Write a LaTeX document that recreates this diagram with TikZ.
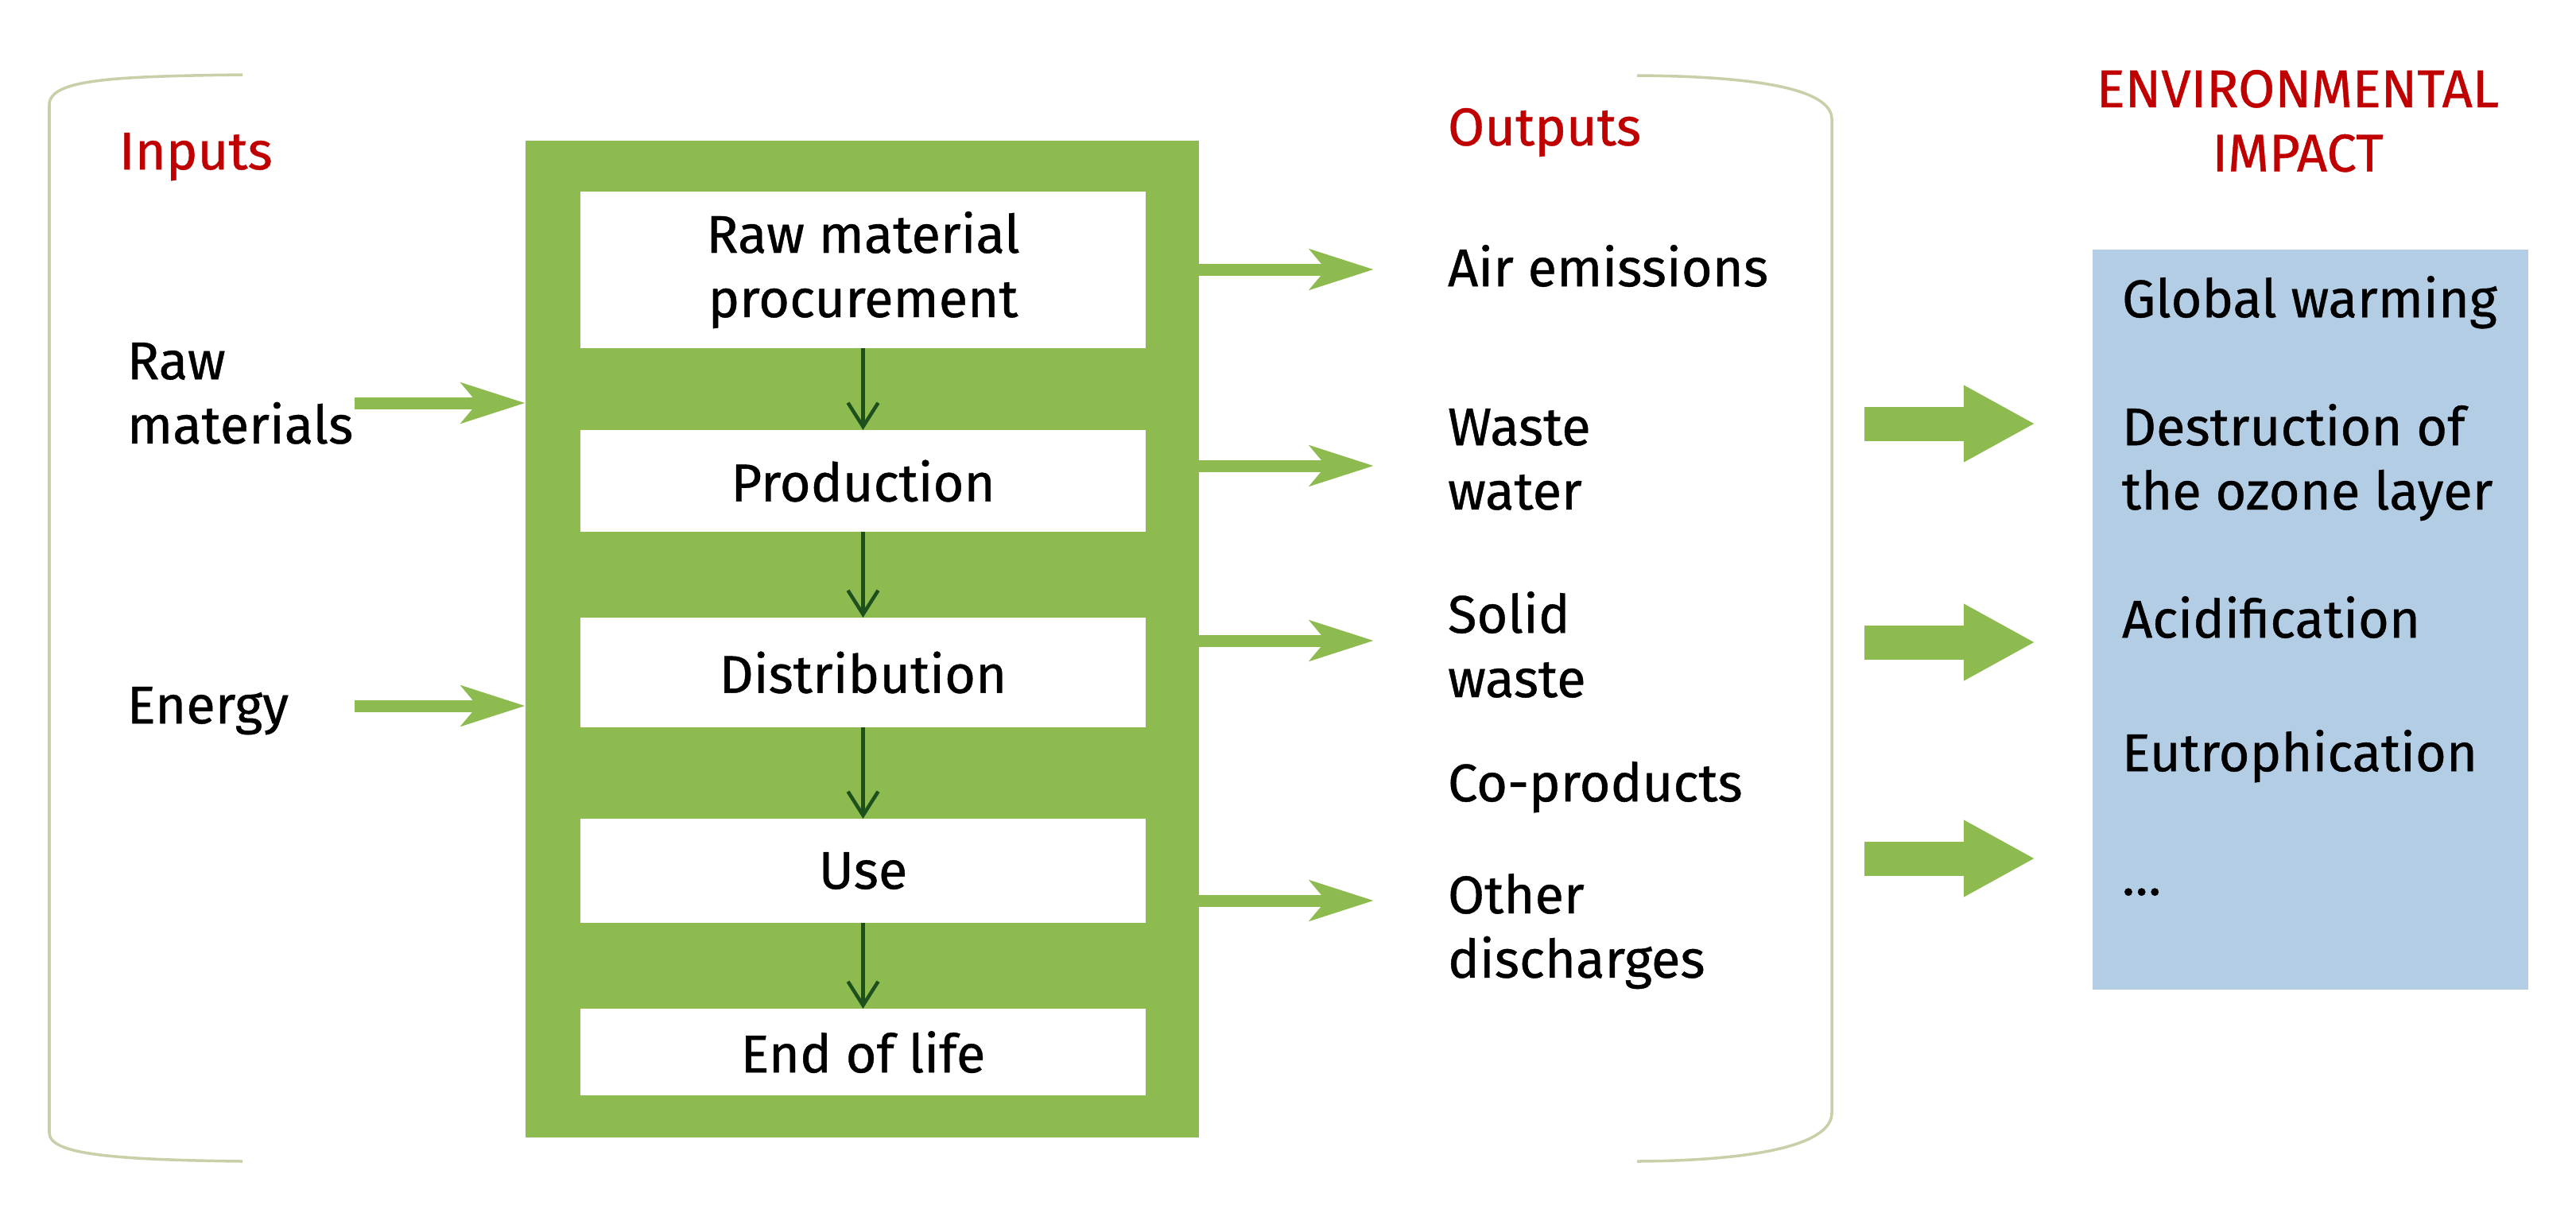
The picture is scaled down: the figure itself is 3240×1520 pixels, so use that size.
\documentclass[tikz,border=0pt]{standalone}
\usepackage{fontspec}
\setmainfont{Fira Sans}[FakeBold=0.6]
\usetikzlibrary{arrows.meta}
\definecolor{lcgreen}{HTML}{8DBB50}
\definecolor{lcblue}{HTML}{B3CDE5}
\definecolor{lcred}{HTML}{C00000}
\definecolor{lcbracket}{HTML}{C9CFA9}
\definecolor{lcdark}{HTML}{1E501E}
\begin{document}
\begin{tikzpicture}[x=0.01cm,y=-0.01cm,
  every node/.style={inner sep=0pt, outer sep=0pt, font=\fontsize{19}{23}\selectfont},
  lbl/.style={anchor=north west, align=left},
  titlelbl/.style={text=lcred},
  stagebox/.style={fill=white, minimum width=7.11cm, align=center},
  thinarrow/.style={draw=lcdark, line width=0.045cm, -{Straight Barb[length=0.3cm,width=0.38cm]}},
  flowarrow/.style={draw=lcgreen, line width=0.15cm, -{Stealth[length=0.8cm,width=0.5cm,inset=0.2cm]}},
  blockarrow/.style={draw=lcgreen, line width=0.43cm, -{Triangle[length=0.9cm,width=0.9cm]}},
  bracket/.style={draw=lcbracket, line width=0.035cm},
]
\fill[white] (0,0) rectangle (3240,1520);
\useasboundingbox (0,0) rectangle (3240,1520);

% brackets
\draw[bracket] (305,94) .. controls (140,96) and (62,100) .. (62,132) -- (62,1425) .. controls (62,1452) and (140,1459) .. (305,1461);
\draw[bracket] (2059,95) .. controls (2210,96) and (2304,112) .. (2304,150) -- (2304,1400) .. controls (2304,1440) and (2210,1460) .. (2059,1461);

% titles
\node[lbl,titlelbl] (inputs) at (150,167) {Inputs};
\node[lbl,titlelbl] (outputs) at (1821,136) {Outputs};
\node[anchor=north,align=center,titlelbl] (envimpact) at (2890,88) {ENVIRONMENTAL\\IMPACT};

% inputs
\node[lbl] (rawmat) at (160,431) {Raw\\materials};
\node[lbl] (energy) at (160,864) {Energy};

% life cycle
\node[fill=lcgreen, minimum width=8.47cm, minimum height=12.54cm] (lifecycle) at (1084.5,804) {};
\node[stagebox, minimum height=1.97cm] (s1) at (1085.5,339.5) {Raw material\\procurement};
\node[stagebox, minimum height=1.28cm] (s2) at (1085.5,605) {Production};
\node[stagebox, minimum height=1.38cm] (s3) at (1085.5,846) {Distribution};
\node[stagebox, minimum height=1.31cm] (s4) at (1085.5,1095.5) {Use};
\node[stagebox, minimum height=1.09cm] (s5) at (1085.5,1323.5) {End of life};
\draw[thinarrow] (s1) -- (s2);
\draw[thinarrow] (s2) -- (s3);
\draw[thinarrow] (s3) -- (s4);
\draw[thinarrow] (s4) -- (s5);

% input arrows
\coordinate (inRM) at (446,507);
\coordinate (inEN) at (446,888);
\draw[flowarrow] (inRM) -- (inRM -| lifecycle.west);
\draw[flowarrow] (inEN) -- (inEN -| lifecycle.west);

% outputs
\node[lbl] (air) at (1821,308) {Air emissions};
\node[lbl] (wastewater) at (1821,514) {Waste\\water};
\node[lbl] (solid) at (1821,744) {Solid\\waste};
\node[lbl] (coprod) at (1821,958) {Co-products};
\node[lbl] (other) at (1821,1099) {Other\\discharges};

\coordinate (oA) at (1728,339);
\coordinate (oB) at (1728,586);
\coordinate (oC) at (1728,806);
\coordinate (oD) at (1728,1133);
\draw[flowarrow] (oA -| lifecycle.east) -- (oA);
\draw[flowarrow] (oB -| lifecycle.east) -- (oB);
\draw[flowarrow] (oC -| lifecycle.east) -- (oC);
\draw[flowarrow] (oD -| lifecycle.east) -- (oD);

% impact box
\node[fill=lcblue, minimum width=5.48cm, minimum height=9.31cm] (impact) at (2906,779.5) {};
\node[lbl] (gw) at (2669,347) {Global warming};
\node[lbl] (ozone) at (2669,508) {Destruction of\\the ozone layer};
\node[lbl] (acid) at (2669,750) {Acidification};
\node[lbl] (eutro) at (2669,918) {Eutrophication};
\node[anchor=base west] (more) at (2669,1126) {…};

% block arrows
\coordinate (bAs) at (2345,533);
\coordinate (bAe) at (2560,533);
\coordinate (bBs) at (2345,808);
\coordinate (bBe) at (2560,808);
\coordinate (bCs) at (2345,1080);
\coordinate (bCe) at (2560,1080);
\draw[blockarrow] (bAs) -- (bAe);
\draw[blockarrow] (bBs) -- (bBe);
\draw[blockarrow] (bCs) -- (bCe);
\end{tikzpicture}
\end{document}
